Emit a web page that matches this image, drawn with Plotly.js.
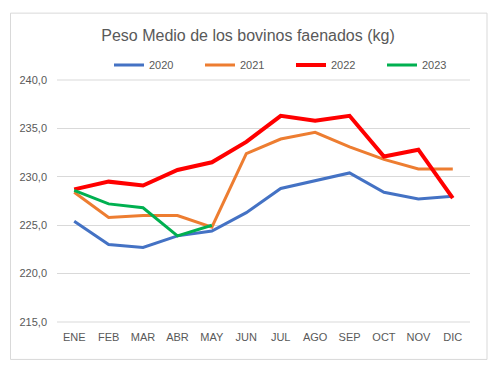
<!DOCTYPE html>
<html>
<head>
<meta charset="utf-8">
<script src="https://cdn.plot.ly/plotly-3.0.1.min.js"></script>
<style>
  html, body { margin: 0; padding: 0; background: #fff; }
  #chart { width: 502px; height: 380px; }
</style>
</head>
<body>
<div id="chart"></div>
<script>
const months = ["ENE","FEB","MAR","ABR","MAY","JUN","JUL","AGO","SEP","OCT","NOV","DIC"];
const v2020 = [225.4, 223.0, 222.7, 223.9, 224.4, 226.3, 228.8, 229.6, 230.4, 228.4, 227.7, 228.0];
const v2021 = [228.4, 225.8, 226.0, 226.0, 224.8, 232.4, 233.9, 234.6, 233.1, 231.8, 230.8, 230.8];
const v2022 = [228.7, 229.5, 229.1, 230.7, 231.5, 233.6, 236.3, 235.8, 236.3, 232.1, 232.8, 227.8];
const v2023 = [228.6, 227.2, 226.8, 223.9, 225.0];
const yTicks = [215, 220, 225, 230, 235, 240];

const font = "Liberation Sans, Arial, sans-serif";
const grey = "#595959";

const traces = [
  {name: "2020", x: months, y: v2020, color: "#4472C4", w: 3},
  {name: "2021", x: months, y: v2021, color: "#ED7D31", w: 3},
  {name: "2022", x: months, y: v2022, color: "#FF0000", w: 4},
  {name: "2023", x: months.slice(0, v2023.length), y: v2023, color: "#00B050", w: 3}
].map(t => ({
  type: "scatter", mode: "lines", name: t.name, x: t.x, y: t.y,
  line: {color: t.color, width: t.w}, hoverinfo: "skip"
}));

const L = 57, R = 470, T = 80, B = 322.5, W = 502, H = 380;
const pw = R - L, ph = B - T;
const px = x => (x - L) / pw;
const py = y => (B - y) / ph;

const layout = {
  width: W, height: H,
  margin: {l: L, r: W - R, t: T, b: H - B, pad: 0},
  paper_bgcolor: "#fff", plot_bgcolor: "#fff",
  separators: ",.",
  showlegend: true,
  title: {
    text: "Peso Medio de los bovinos faenados (kg)",
    font: {family: font, size: 16, color: grey},
    x: 248 / W, xanchor: "center", xref: "container",
    y: 1 - 35 / H, yanchor: "middle", yref: "container"
  },
  legend: {
    orientation: "h", x: px(291), xanchor: "center", y: py(65), yanchor: "middle",
    font: {family: font, size: 11, color: grey},
    bgcolor: "rgba(0,0,0,0)", entrywidth: 46, entrywidthmode: "pixels",
    itemwidth: 30, traceorder: "normal"
  },
  xaxis: {
    type: "category", range: [-0.5, 11.5], fixedrange: true,
    showgrid: false, showline: false, zeroline: false, ticks: "",
    tickfont: {family: font, size: 11, color: grey},
    ticklabelstandoff: 7, automargin: false
  },
  yaxis: {
    range: [215, 240], tickvals: yTicks, tickformat: ".1f",
    showgrid: true, gridcolor: "#D9D9D9", gridwidth: 1,
    showline: false, zeroline: false, ticks: "",
    tickfont: {family: font, size: 11, color: grey},
    ticklabelstandoff: 9, automargin: false, fixedrange: true
  },
  shapes: [
    {type: "rect", xref: "paper", yref: "paper",
     x0: px(10.5), x1: px(487), y0: py(360), y1: py(13),
     line: {color: "#D9D9D9", width: 1}, fillcolor: "rgba(0,0,0,0)", layer: "below"},
    {type: "line", xref: "paper", yref: "paper", x0: 0, x1: 1, y0: 0, y1: 0,
     line: {color: "#D9D9D9", width: 1}, layer: "below"},
    {type: "line", xref: "paper", yref: "paper", x0: 0, x1: 1, y0: 1, y1: 1,
     line: {color: "#D9D9D9", width: 1}, layer: "below"}
  ]
};

Plotly.newPlot("chart", traces, layout, {displayModeBar: false, staticPlot: true});
</script>
</body>
</html>
